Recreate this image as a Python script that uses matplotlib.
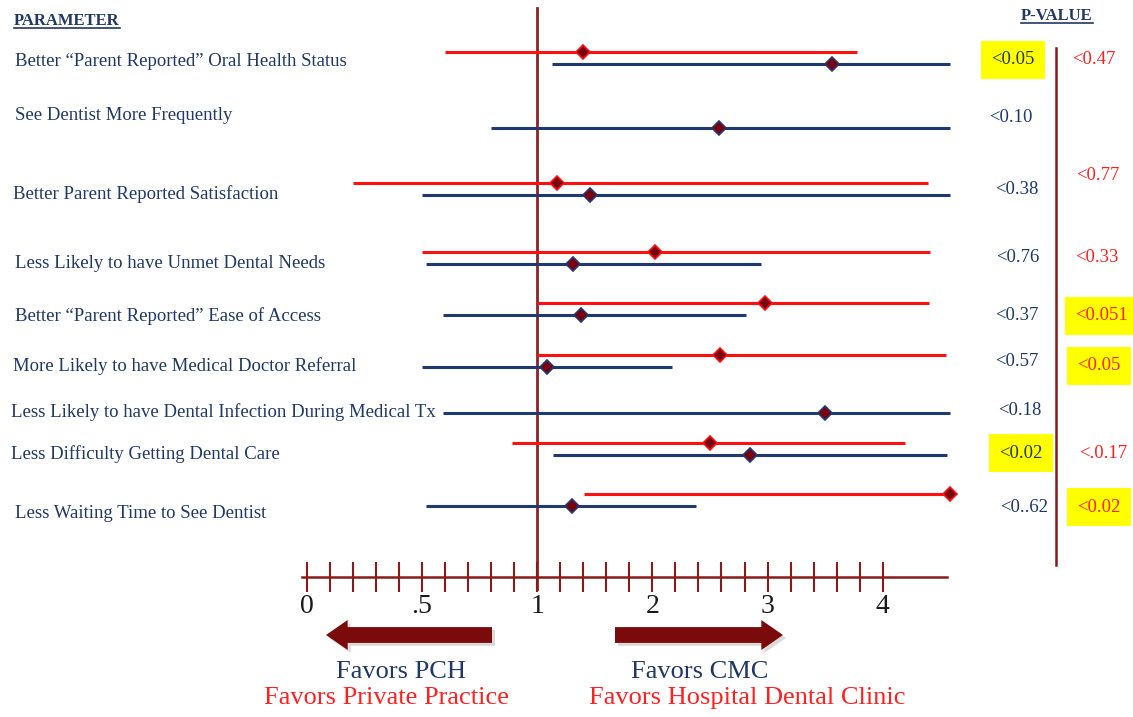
import numpy as np
import matplotlib
matplotlib.use("Agg")
import matplotlib.pyplot as plt
from matplotlib.lines import Line2D

plt.rcParams['font.family'] = ['Liberation Serif', 'DejaVu Serif']

# forest plot data (odds ratios)
labels = ['Better \u201cParent Reported\u201d Oral Health Status',
          'See Dentist More Frequently',
          'Better Parent Reported Satisfaction',
          'Less Likely to have Unmet Dental Needs',
          'Better \u201cParent Reported\u201d Ease of Access',
          'More Likely to have Medical Doctor Referral',
          'Less Likely to have Dental Infection During Medical Tx',
          'Less Difficulty Getting Dental Care',
          'Less Waiting Time to See Dentist']
nan = np.nan
blue_est = [3.56, 2.58, 1.46, 1.31, 1.38, 1.09, 3.50, 2.85, 1.30]
blue_lo = [1.13, 0.80, 0.50, 0.52, 0.59, 0.50, 0.59, 1.14, 0.52]
blue_hi = [4.58, 4.58, 4.58, 2.94, 2.81, 2.17, 4.58, 4.56, 2.38]
red_est = [1.40, nan, 1.17, 2.02, 2.98, 2.59, nan, 2.50, 4.58]
red_lo = [0.60, nan, 0.20, 0.50, 1.00, 1.00, nan, 0.89, 1.41]
red_hi = [3.78, nan, 4.39, 4.41, 4.40, 4.55, nan, 4.19, 4.58]

p_blue = ['<0.05', '<0.10', '<0.38', '<0.76', '<0.37', '<0.57', '<0.18', '<0.02', '<0..62']
p_blue_hl = [True, False, False, False, False, False, False, True, False]
p_red = ['<0.47', '<0.77', '<0.33', '<0.051', '<0.05', '<.0.17', '<0.02']
p_red_hl = [False, False, False, True, True, False, True]

tick_vals = [0, 0.5, 1, 2, 3, 4]
tick_labels = ['0', '.5', '1', '2', '3', '4']

# layout (pixel rows of the original slide)
W, H = 1133, 717
row_y = [64, 128, 195, 264, 315, 367, 413, 455, 506]
red_dy = -12.5
label_x = [15, 15, 13, 15, 15, 13, 11, 11, 15]
label_y = [61, 116, 194, 263, 316, 366, 412, 454, 513]
pb_x = [991, 989, 995, 996, 995, 995, 998, 999, 1000]
pb_y = [60, 117, 190, 257, 315, 361, 410, 453, 507]
pr_x = [1072, 1076, 1075, 1075, 1077, 1079, 1077]
pr_y = [59, 175, 257, 316, 366, 453, 507]

navy = '#1F3864'
blue_line = '#1F3A73'
red_line = '#FF1010'
red_txt = '#FF2020'
dark_red = '#8B1A1A'
marker_fc = '#7A0010'


def fwd(v):
    v = np.asarray(v, float)
    return np.where(v <= 1, 2 * v, v + 1)


def inv(u):
    u = np.asarray(u, float)
    return np.where(u <= 2, u / 2, u - 1)


def fxy(x, y):
    return x / W, 1 - y / H


fig = plt.figure(figsize=(W / 100, H / 100), dpi=100)
ax = fig.add_axes([302 / W, (H - 577) / H, 645 / W, 577 / H])
ax.set_xscale('function', functions=(fwd, inv))
ax.set_xlim(-0.02, 4.557)
ax.set_ylim(577, 0)

for sp in ['top', 'left', 'right']:
    ax.spines[sp].set_visible(False)
ax.spines['bottom'].set_color(dark_red)
ax.spines['bottom'].set_linewidth(1.8)
ax.set_yticks([])

minor = [v for v in np.round(np.arange(0.1, 1.0, 0.1), 2) if v != 0.5]
minor += [v for v in np.round(np.arange(1.2, 4.01, 0.2), 2) if abs(v - round(v)) > 1e-6]
ax.set_xticks(tick_vals, tick_labels)
ax.set_xticks(minor, minor=True)
ax.tick_params(axis='x', which='both', direction='inout', length=22, width=1.5,
               color=dark_red, labelsize=20, pad=1, labelcolor='#1a1a1a')

# null line
ax.axvline(1, ymin=-0.02, ymax=1 - 8 / 577, color='#8B2525', lw=2, clip_on=False, zorder=1)

ry = np.array(row_y)
ax.hlines(ry, blue_lo, blue_hi, color=blue_line, lw=2.2, zorder=2, clip_on=False)
ax.hlines(ry + red_dy, red_lo, red_hi, color=red_line, lw=2.2, zorder=2, clip_on=False)
ax.plot(blue_est, ry, 'D', ms=7, mfc=marker_fc, mec=blue_line, mew=1.2, zorder=3, clip_on=False)
ax.plot(red_est, ry + red_dy, 'D', ms=7, mfc=marker_fc, mec=red_line, mew=1.2, zorder=3, clip_on=False)

# row labels
for lab, x, y in zip(labels, label_x, label_y):
    fig.text(*fxy(x, y), lab, fontsize=13.5, color=navy, ha='left', va='center')

# p-values
for s, hl, x, y in zip(p_blue, p_blue_hl, pb_x, pb_y):
    kw = {}
    if hl:
        kw['bbox'] = dict(boxstyle='square,pad=0.55', fc='#FFFF00', ec='none')
    fig.text(*fxy(x, y), s, fontsize=13.5, color=navy, ha='left', va='center', **kw)

red_texts = []
for s, hl, x, y in zip(p_red, p_red_hl, pr_x, pr_y):
    kw = {}
    if hl:
        kw['bbox'] = dict(boxstyle='square,pad=0.55', fc='#FFFF00', ec='none')
    red_texts.append(fig.text(*fxy(x, y), s, fontsize=13.5, color=red_txt,
                              ha='left', va='center', **kw))

fig.add_artist(Line2D([1056 / W] * 2, [1 - 48 / H, 1 - 565 / H], color='#8B1A1A', lw=1.8))

# headers
h1 = fig.text(*fxy(14, 21), 'PARAMETER', fontsize=12, fontweight='bold', color=navy,
              ha='left', va='center')
h2 = fig.text(*fxy(1021, 16), 'P-VALUE', fontsize=12, fontweight='bold', color=navy,
              ha='left', va='center')

# arrows and bottom labels
arrow_style = 'simple,head_length=1.3,head_width=1.8,tail_width=0.95'
for tail, head in [(492, 326), (615, 783)]:
    ax.annotate('', xy=(head + 3, H - 638), xytext=(tail + 3, H - 638), xycoords='figure pixels',
                arrowprops=dict(arrowstyle=arrow_style, mutation_scale=12, fc='#999999',
                                ec='none', alpha=0.35, shrinkA=0, shrinkB=0))
    ax.annotate('', xy=(head, H - 635), xytext=(tail, H - 635), xycoords='figure pixels',
                arrowprops=dict(arrowstyle=arrow_style, mutation_scale=12, fc='#7B0A0A',
                                ec='none', shrinkA=0, shrinkB=0))

fig.text(*fxy(401, 672), 'Favors PCH', fontsize=19, color=navy, ha='center', va='center')
fig.text(*fxy(387, 698), 'Favors Private Practice', fontsize=19, color=red_txt,
         ha='center', va='center')
fig.text(*fxy(700, 672), 'Favors CMC', fontsize=19, color=navy, ha='center', va='center')
fig.text(*fxy(747, 698), 'Favors Hospital Dental Clinic', fontsize=19, color=red_txt,
         ha='center', va='center')

# underlines
fig.canvas.draw()
r = fig.canvas.get_renderer()


def underline(t, color, skip=0.0):
    bb = t.get_window_extent(r)
    y = bb.y0 + 1
    fig.add_artist(Line2D([(bb.x0 + skip) / W, bb.x1 / W], [y / H, y / H], color=color, lw=1.2))


underline(h1, navy)
underline(h2, navy)
lt = fig.text(0, 0, '<', fontsize=13.5)
lw_ = lt.get_window_extent(r).width
lt.remove()
underline(red_texts[3], red_txt, skip=lw_)

fig.savefig('out.png', dpi=100)
